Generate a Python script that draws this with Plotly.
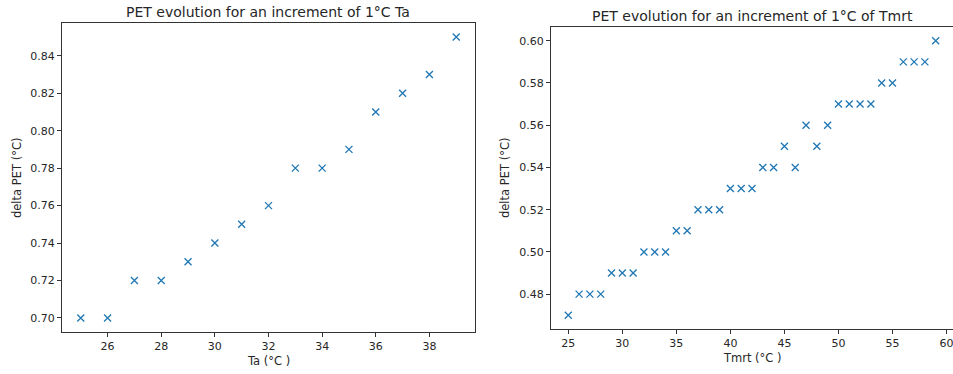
import plotly.graph_objects as go

# Left panel data
ta = [25, 26, 27, 28, 29, 30, 31, 32, 33, 34, 35, 36, 37, 38, 39]
delta_pet_ta = [0.70, 0.70, 0.72, 0.72, 0.73, 0.74, 0.75, 0.76, 0.78, 0.78,
                0.79, 0.81, 0.82, 0.83, 0.85]

# Right panel data
tmrt = list(range(25, 60))
delta_pet_tmrt = [0.47, 0.48, 0.48, 0.48, 0.49, 0.49, 0.49, 0.50, 0.50, 0.50,
                  0.51, 0.51, 0.52, 0.52, 0.52, 0.53, 0.53, 0.53, 0.54, 0.54,
                  0.55, 0.54, 0.56, 0.55, 0.56, 0.57, 0.57, 0.57, 0.57, 0.58,
                  0.58, 0.59, 0.59, 0.59, 0.60]

left_xticks = [26, 28, 30, 32, 34, 36, 38]
left_yticks = [0.70, 0.72, 0.74, 0.76, 0.78, 0.80, 0.82, 0.84]
right_xticks = [25, 30, 35, 40, 45, 50, 55, 60]
right_yticks = [0.48, 0.50, 0.52, 0.54, 0.56, 0.58, 0.60]

titles = ["PET evolution for an increment of 1°C Ta",
          "PET evolution for an increment of 1°C of Tmrt"]
xlabels = ["Ta (°C )", "Tmrt (°C )"]
ylabel = "delta PET (°C)"

W, H = 953, 374
FONT = "DejaVu Sans"
BLUE = "#1f77b4"
TXT = "#262626"

def px_x(p):
    return p / W

def px_y(p):
    return 1 - p / H

fig = go.Figure()
marker = dict(symbol="x-thin-open", size=7, color=BLUE,
              line=dict(color=BLUE, width=1.3))
fig.add_trace(go.Scatter(x=ta, y=delta_pet_ta, mode="markers", marker=marker,
                         xaxis="x", yaxis="y", showlegend=False))
fig.add_trace(go.Scatter(x=tmrt, y=delta_pet_tmrt, mode="markers", marker=marker,
                         xaxis="x2", yaxis="y2", showlegend=False))

axis_common = dict(showgrid=False, zeroline=False, showline=True,
                   linecolor="#333333", linewidth=1, ticks="outside",
                   ticklen=4, tickcolor="#333333", tickwidth=1,
                   ticklabeloverflow="allow",
                   tickfont=dict(family=FONT, size=11, color=TXT))

fig.update_layout(
    xaxis=dict(domain=[px_x(62), px_x(475)], range=[24.3, 39.7],
               tickvals=left_xticks, anchor="y", mirror=True, **axis_common),
    yaxis=dict(domain=[px_y(332), px_y(23)], range=[0.6925, 0.8575],
               tickvals=left_yticks, tickformat=".2f", anchor="x",
               mirror=True, **axis_common),
    xaxis2=dict(domain=[px_x(551), 1.0], range=[23.4, 60.6],
                tickvals=right_xticks, anchor="y2", mirror=True, **axis_common),
    yaxis2=dict(domain=[px_y(329), px_y(27)], range=[0.4635, 0.6065],
                tickvals=right_yticks, tickformat=".2f", anchor="x2",
                mirror=False, **axis_common),
)

annotations = [
    dict(text=titles[0], x=px_x(268), y=px_y(12), xref="paper", yref="paper",
         showarrow=False, font=dict(family=FONT, size=14, color=TXT),
         xanchor="center", yanchor="middle"),
    dict(text=titles[1], x=px_x(752), y=px_y(16), xref="paper", yref="paper",
         showarrow=False, font=dict(family=FONT, size=14, color=TXT),
         xanchor="center", yanchor="middle"),
    dict(text=xlabels[0], x=px_x(268), y=px_y(361), xref="paper", yref="paper",
         showarrow=False, font=dict(family=FONT, size=11.5, color=TXT),
         xanchor="center", yanchor="middle"),
    dict(text=xlabels[1], x=px_x(752), y=px_y(358), xref="paper", yref="paper",
         showarrow=False, font=dict(family=FONT, size=11.5, color=TXT),
         xanchor="center", yanchor="middle"),
    dict(text=ylabel, x=px_x(17), y=px_y(178), xref="paper", yref="paper",
         showarrow=False, font=dict(family=FONT, size=11.5, color=TXT),
         textangle=-90, xanchor="center", yanchor="middle"),
    dict(text=ylabel, x=px_x(505), y=px_y(178), xref="paper", yref="paper",
         showarrow=False, font=dict(family=FONT, size=11.5, color=TXT),
         textangle=-90, xanchor="center", yanchor="middle"),
]

fig.update_layout(
    annotations=annotations,
    width=W, height=H,
    margin=dict(l=0, r=0, t=0, b=0),
    paper_bgcolor="white", plot_bgcolor="white",
    font=dict(family=FONT, color=TXT),
    showlegend=False,
)

fig.write_html("out.html")
